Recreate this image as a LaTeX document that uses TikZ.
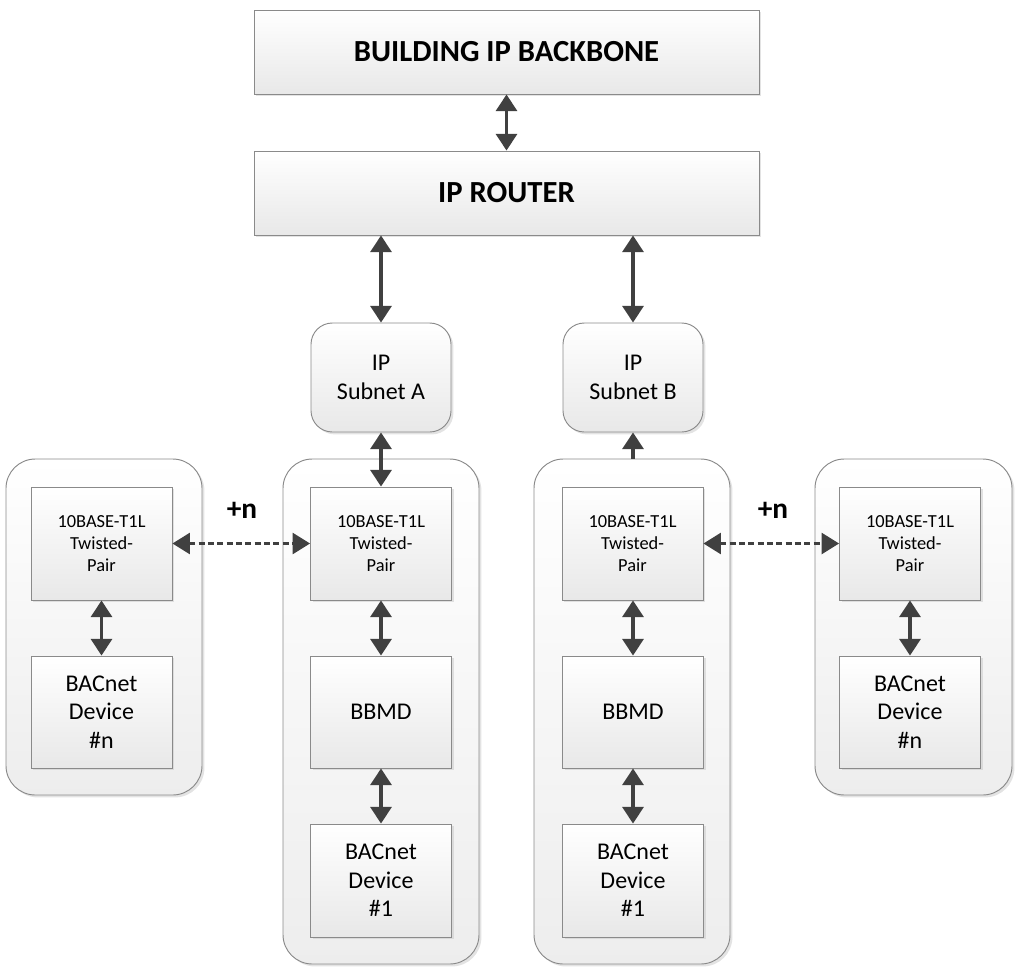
\documentclass[tikz,border=0pt]{standalone}
\usepackage{fontspec}
\setmainfont{Carlito}
\usetikzlibrary{arrows.meta,shadows}
\definecolor{arr}{HTML}{404040}
\definecolor{edgec}{HTML}{8A8A8A}
\begin{document}
\begin{tikzpicture}[x=0.75pt,y=-0.75pt,
  box/.style={draw=edgec, line width=0.7pt, top color=white, bottom color=black!9,
    drop shadow={shadow xshift=1.8pt, shadow yshift=-1.8pt, fill=black!22},
    align=center, inner sep=0pt},
  rbox/.style={box, rounded corners=16pt},
  cont/.style={box, rounded corners=22pt, top color=white, bottom color=black!7},
  bigt/.style={font=\bfseries\fontsize{23}{28}\selectfont},
  midt/.style={font=\fontsize{18}{21.5}\selectfont},
  smallt/.style={font=\fontsize{13.8}{16.5}\selectfont},
  biarrow/.style={draw=arr, line width=2.5pt, {Triangle[length=12.5pt,width=15.75pt]}-{Triangle[length=12.5pt,width=15.75pt]}},
  uparrow/.style={draw=arr, line width=2.5pt, -{Triangle[length=12.5pt,width=15.75pt]}},
  dasharrow/.style={draw=arr, line width=1.6pt, dash pattern=on 4.5pt off 2.5pt,
    {Triangle[length=13pt,width=15.75pt]}-{Triangle[length=13pt,width=15.75pt]}},
  plusn/.style={font=\bfseries\fontsize{22}{26}\selectfont}
]
\useasboundingbox (0,0) rectangle (1024,974);

% top boxes
\node[box, bigt, minimum width=378.75pt, minimum height=63pt] (bb) at (506.5,52) {BUILDING IP BACKBONE};
\node[box, bigt, minimum width=378.75pt, minimum height=63pt] (rt) at (506.5,193) {IP ROUTER};

% subnets
\node[rbox, midt, minimum width=105pt, minimum height=81.75pt] (subA) at (381,377.5) {IP\\Subnet A};
\node[rbox, midt, minimum width=105pt, minimum height=81.75pt] (subB) at (633,377.5) {IP\\Subnet B};

% containers
\node[cont, minimum width=147pt, minimum height=252pt] (cL) at (104,627) {};
\node[cont, minimum width=147pt, minimum height=378.75pt] (cA) at (381,711.5) {};
\node[cont, minimum width=147pt, minimum height=378.75pt] (cB) at (632,711.5) {};
\node[cont, minimum width=147.75pt, minimum height=252pt] (cR) at (913.5,627) {};

% twisted pair boxes
\node[box, smallt, minimum width=105.75pt, minimum height=84.75pt] (tpL) at (101.5,543.5) {10BASE-T1L\\Twisted-\\Pair};
\node[box, smallt, minimum width=105.75pt, minimum height=84.75pt] (tpA) at (381,543.5) {10BASE-T1L\\Twisted-\\Pair};
\node[box, smallt, minimum width=105.75pt, minimum height=84.75pt] (tpB) at (632.5,543.5) {10BASE-T1L\\Twisted-\\Pair};
\node[box, smallt, minimum width=105.75pt, minimum height=84.75pt] (tpR) at (910,543.5) {10BASE-T1L\\Twisted-\\Pair};

% BBMD
\node[box, midt, minimum width=105.75pt, minimum height=84pt] (bbA) at (381,712) {BBMD};
\node[box, midt, minimum width=105.75pt, minimum height=84pt] (bbB) at (633,712) {BBMD};

% devices
\node[box, midt, minimum width=105.75pt, minimum height=84.75pt] (devA) at (381,880.5) {BACnet\\Device\\\#1};
\node[box, midt, minimum width=105.75pt, minimum height=84.75pt] (devB) at (633,880.5) {BACnet\\Device\\\#1};
\node[box, midt, minimum width=105.75pt, minimum height=84pt] (devL) at (101.5,712) {BACnet\\Device\\\#n};
\node[box, midt, minimum width=105.75pt, minimum height=84pt] (devR) at (910,712) {BACnet\\Device\\\#n};

% +n labels
\node[plusn] (pnL) at (242,510) {+n};
\node[plusn] (pnR) at (773,510) {+n};

% arrows
\draw[biarrow] (bb.south) -- (rt.north);
\draw[biarrow] (subA.north |- rt.south) -- (subA.north);
\draw[biarrow] (subB.north |- rt.south) -- (subB.north);
\draw[biarrow] (subA.south) -- (tpA.north);
\draw[uparrow] (subB.south |- cB.north) -- (subB.south);
\draw[biarrow] (tpL.south) -- (devL.north);
\draw[biarrow] (tpA.south) -- (bbA.north);
\draw[biarrow] (bbA.south) -- (devA.north);
\draw[biarrow] (tpB.south -| bbB.north) -- (bbB.north);
\draw[biarrow] (bbB.south) -- (devB.north);
\draw[biarrow] (tpR.south) -- (devR.north);
\draw[dasharrow] (tpL.east) -- (tpA.west);
\draw[dasharrow] (tpB.east) -- (tpR.west);
\end{tikzpicture}
\end{document}
